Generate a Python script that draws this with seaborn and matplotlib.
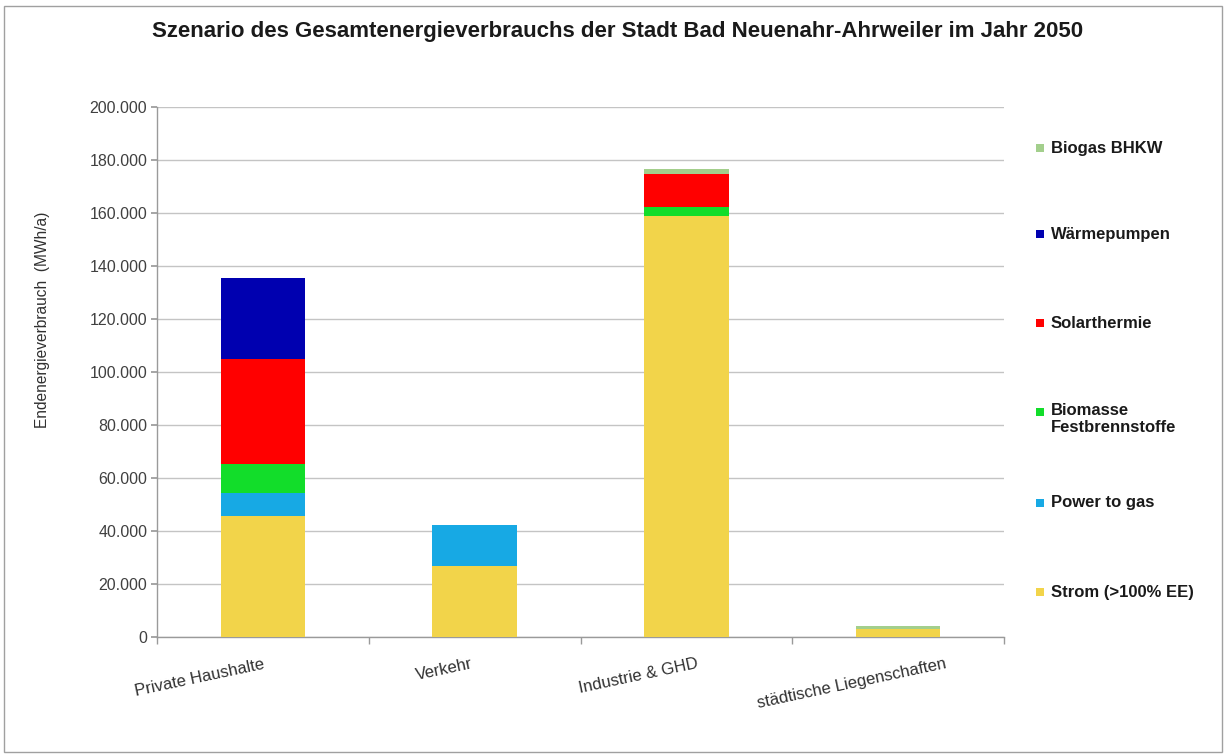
import numpy as np
import pandas as pd
import matplotlib
matplotlib.use("Agg")
import matplotlib.pyplot as plt
import matplotlib.transforms as mtrans
import seaborn as sns
from matplotlib.ticker import FuncFormatter
from matplotlib.patches import Rectangle

# ---------- Daten (MWh/a) ----------
sektoren = ['Private Haushalte', 'Verkehr', 'Industrie & GHD', 'städtische Liegenschaften']
strom      = [45700, 26800, 158900, 3200]
power_gas  = [8600, 15500, 0, 0]
biomasse   = [11000, 0, 3400, 0]
solar      = [39600, 0, 12400, 0]
waerme     = [30600, 0, 0, 0]
biogas     = [0, 0, 1900, 800]

serien = ['Strom (>100% EE)', 'Power to gas', 'Biomasse\nFestbrennstoffe',
          'Solarthermie', 'Wärmepumpen', 'Biogas BHKW']
werte = [strom, power_gas, biomasse, solar, waerme, biogas]
farben = ['#f2d44a', '#17a9e4', '#12dd2a', '#ff0000', '#0000b0', '#a3cf8c']

df = pd.DataFrame(dict(zip(serien, werte)), index=sektoren)
kum = df.cumsum(axis=1)

sns.set_theme(style="white")
plt.rcParams['font.family'] = ['Liberation Sans', 'DejaVu Sans']

fig = plt.figure(figsize=(12.27, 7.56), dpi=100)
ax = fig.add_axes([157/1227, 1-637/756, (1004-157)/1227, (637-107)/756])

# gestapelt: von oben nach unten überzeichnen
for s, c in reversed(list(zip(serien, farben))):
    sns.barplot(x=sektoren, y=kum[s].values, color=c, width=0.4,
                saturation=1, ax=ax, zorder=3, edgecolor='none', linewidth=0)

ax.set_ylim(0, 200000)
ax.set_xlim(-0.5, 3.5)
ax.set_yticks(np.arange(0, 200001, 20000))
ax.yaxis.set_major_formatter(FuncFormatter(lambda v, p: f"{v:,.0f}".replace(",", ".")))
ax.grid(True, axis='y', color='#c4c4c4', linewidth=1)
ax.set_axisbelow(True)
for sp in ['top', 'right']:
    ax.spines[sp].set_visible(False)
for sp in ['left', 'bottom']:
    ax.spines[sp].set_color('#9a9a9a')
    ax.spines[sp].set_linewidth(1)

ax.tick_params(axis='y', left=True, length=4, color='#9a9a9a', labelsize=11.5,
               labelcolor='#404040', pad=3)
ax.set_xticks(np.arange(-0.5, 4, 1), minor=True)
ax.tick_params(axis='x', which='minor', bottom=True, length=5, color='#9a9a9a')
ax.tick_params(axis='x', which='major', bottom=False, labelsize=12,
               labelcolor='#303030', pad=8)
ax.set_xticks(range(len(sektoren)))
ax.set_xticklabels(sektoren, rotation=12, ha='right', rotation_mode='anchor')
# Excel-artige Verschiebung der längeren Beschriftungen
for lbl, dx in zip(ax.get_xticklabels(), [0, -4, 10, 46]):
    lbl.set_transform(lbl.get_transform() +
                      mtrans.ScaledTranslation(dx/100, 0, fig.dpi_scale_trans))
ax.set_xlabel('')
ax.set_ylabel('')

fig.text(43/1227, 1-320/756, 'Endenergieverbrauch  (MWh/a)', rotation=90,
         ha='center', va='center', fontsize=11.2, color='#303030')

fig.text(618/1227, 1-32/756,
         'Szenario des Gesamtenergieverbrauchs der Stadt Bad Neuenahr-Ahrweiler im Jahr 2050',
         ha='center', va='center', fontsize=16, fontweight='bold', color='#1a1a1a')

# Legende rechts
leg_y = [148, 234, 323, 412, 503, 592]
for lab, c, y in zip(reversed(serien), reversed(farben), leg_y):
    fig.patches.append(Rectangle(((1040-4)/1227, 1-(y+4)/756), 8/1227, 8/756,
                                 transform=fig.transFigure, facecolor=c,
                                 edgecolor='none', figure=fig))
    fig.text(1051/1227, 1-y/756 if '\n' not in lab else 1-(y-9)/756, lab,
             ha='left', va='top' if '\n' in lab else 'center',
             fontsize=12, fontweight='bold', color='#1a1a1a', linespacing=1.2)

# Rahmen um das Diagramm
fig.patches.append(Rectangle((4/1227, 4/756), 1-9/1227, 1-10/756,
                             transform=fig.transFigure, facecolor='none',
                             edgecolor='#a0a0a0', linewidth=1, figure=fig))

fig.savefig('out.png', dpi=100)
